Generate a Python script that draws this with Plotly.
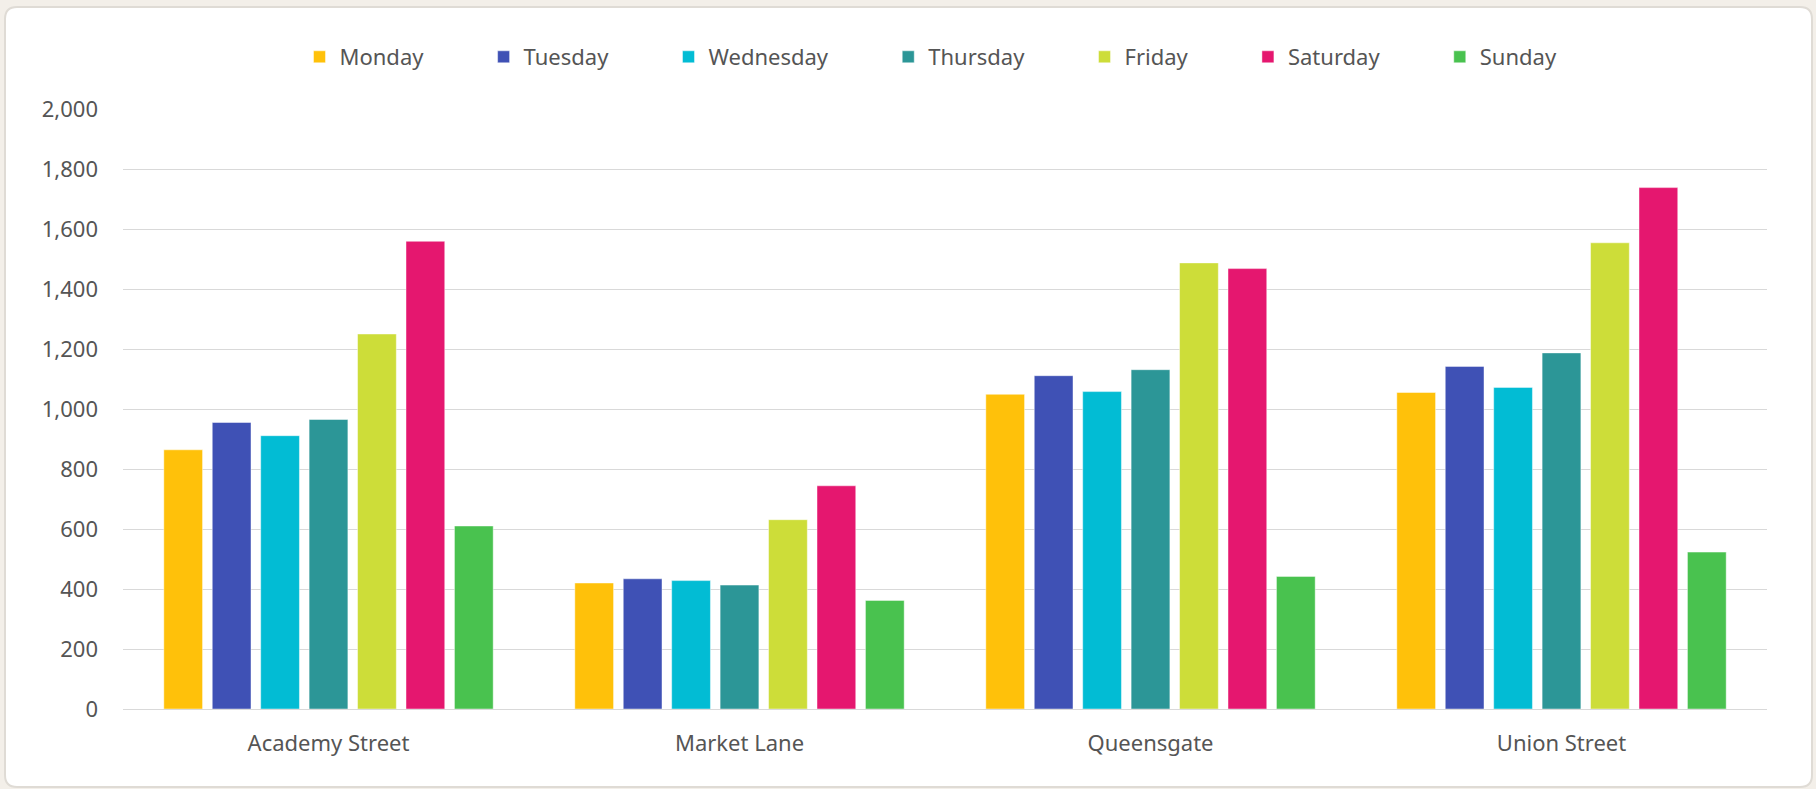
import plotly.graph_objects as go

stores = ["Academy Street", "Market Lane", "Queensgate", "Union Street"]
days = ["Monday", "Tuesday", "Wednesday", "Thursday", "Friday", "Saturday", "Sunday"]
monday = [864, 420, 1049, 1055]
tuesday = [955, 434, 1111, 1142]
wednesday = [911, 428, 1058, 1072]
thursday = [965, 413, 1131, 1187]
friday = [1250, 631, 1487, 1554]
saturday = [1559, 744, 1468, 1738]
sunday = [610, 362, 442, 523]
series = [monday, tuesday, wednesday, thursday, friday, saturday, sunday]
colors = ["#FFC10A", "#3F51B5", "#02BCD4", "#2C9697", "#CDDD39", "#E5176F", "#49C24F"]
y_ticks = [0, 200, 400, 600, 800, 1000, 1200, 1400, 1600, 1800, 2000]

W, H = 1816, 789
L, R, T, B = 123, 49, 109, 80
pw, ph = W - L - R, H - T - B

def px(x):
    return (x - L) / pw

def py(y):
    return (H - B - y) / ph

FONT = "Noto Sans"
fig = go.Figure()
pad = "\u00a0" * 9 + "\u2009"
for i, (d, vals) in enumerate(zip(days, series)):
    fig.add_trace(go.Bar(
        x=stores, y=vals, name=d + (pad if i < len(days) - 1 else ""),
        marker=dict(color=colors[i], line=dict(color="rgba(255,255,255,0.45)", width=1)),
    ))

# rounded card
x0, x1, y0, y1 = px(5), px(1812), py(7), py(787)
rx, ry = 12 / pw, 12 / ph
path = (f"M{x0+rx},{y0} L{x1-rx},{y0} Q{x1},{y0} {x1},{y0-ry} "
        f"L{x1},{y1+ry} Q{x1},{y1} {x1-rx},{y1} L{x0+rx},{y1} "
        f"Q{x0},{y1} {x0},{y1+ry} L{x0},{y0-ry} Q{x0},{y0} {x0+rx},{y0} Z")
fig.add_shape(type="path", path=path, xref="paper", yref="paper", layer="below",
              fillcolor="white", line=dict(color="#DFDBD5", width=2))

fig.update_layout(
    width=W, height=H,
    margin=dict(l=L, r=R, t=T, b=B),
    paper_bgcolor="#F3EFE9",
    plot_bgcolor="rgba(0,0,0,0)",
    font=dict(family=FONT, size=22, color="#555555"),
    barmode="group", bargap=0.175, bargroupgap=0.2,
    showlegend=True,
    legend=dict(orientation="h", x=px(931), xanchor="center", y=py(57), yanchor="middle",
                font=dict(size=22, color="#555555"), bgcolor="rgba(0,0,0,0)",
                traceorder="normal"),
    xaxis=dict(showgrid=False, showline=False, zeroline=False, ticks="",
               tickfont=dict(size=22, color="#555555"), ticklabelstandoff=19),
    yaxis=dict(range=[0, 2000], tickvals=y_ticks, tickformat=",",
               showgrid=True, gridcolor="#D9D9D9", gridwidth=1.4,
               zeroline=True, zerolinecolor="#D9D9D9", zerolinewidth=1.4,
               showline=False, ticks="", ticklabelstandoff=24,
               tickfont=dict(size=22, color="#555555")),
)

fig.write_html("out.html")
